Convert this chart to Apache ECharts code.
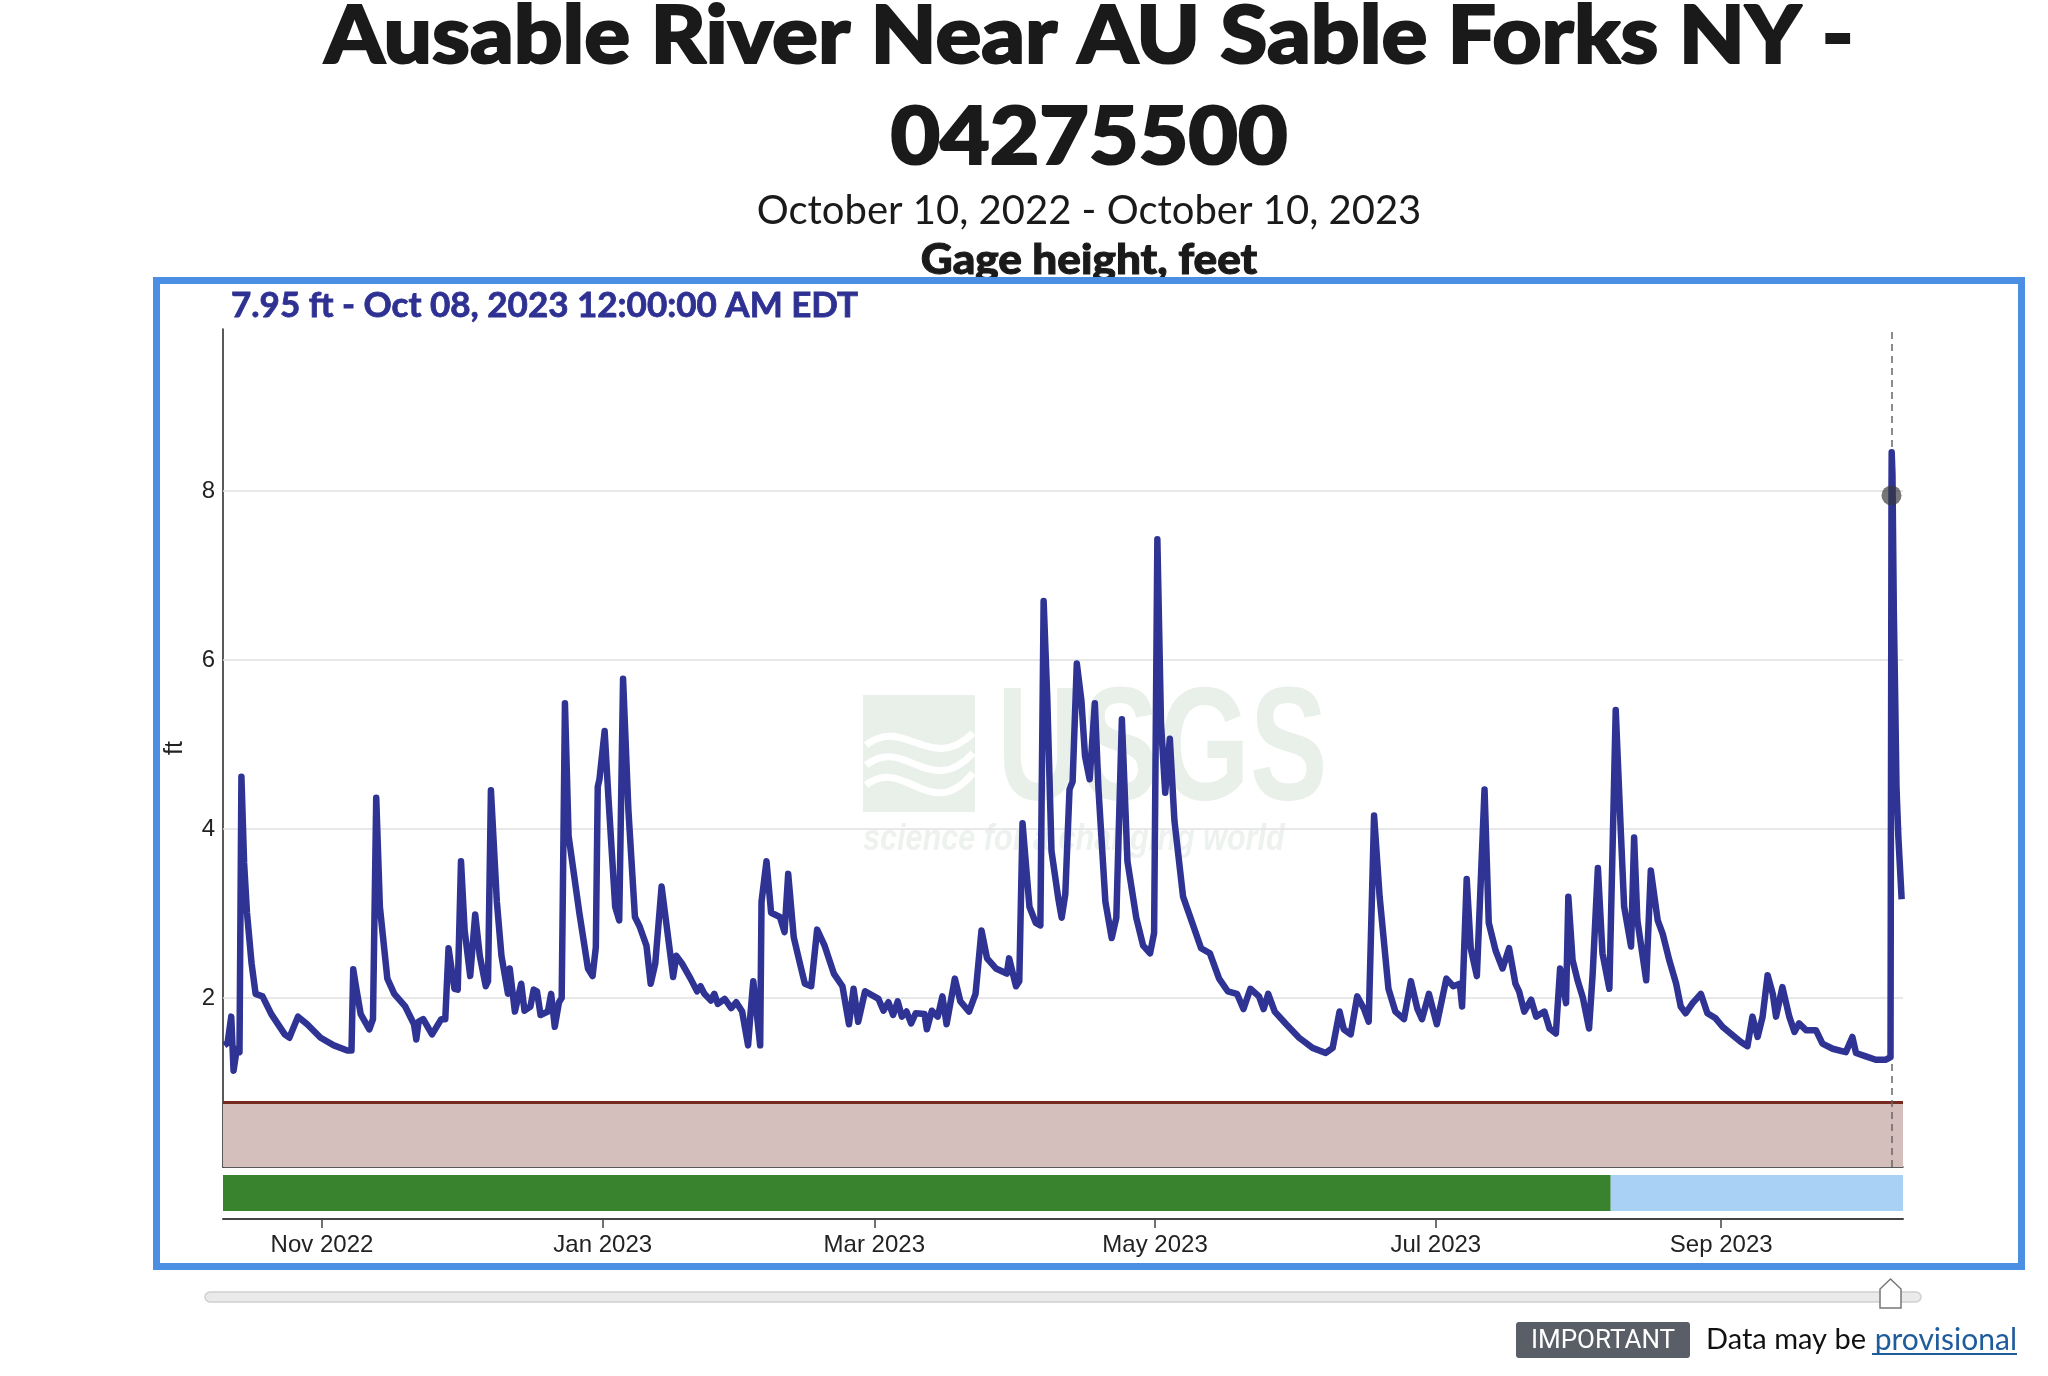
<!DOCTYPE html>
<html><head><meta charset="utf-8">
<script src="https://cdn.jsdelivr.net/npm/echarts@6/dist/echarts.min.js"></script>
<style>html,body{margin:0;padding:0;background:#fff;}#c{width:2048px;height:1376px;}</style>
</head><body><div id="c"></div>
<script>
// ---------------- DATA ----------------
const times = [
'2022-10-10 19:00','2022-10-11 12:00','2022-10-12 07:00','2022-10-12 19:00','2022-10-13 12:00','2022-10-14 02:00','2022-10-14 12:00','2022-10-15 02:00','2022-10-15 17:00','2022-10-16 17:00',
'2022-10-17 14:00','2022-10-19 02:00','2022-10-21 00:00','2022-10-23 22:00','2022-10-24 22:00','2022-10-26 19:00','2022-10-28 19:00','2022-10-31 17:00','2022-11-03 14:00','2022-11-06 12:00',
'2022-11-07 10:00','2022-11-07 19:00','2022-11-08 12:00','2022-11-09 10:00','2022-11-11 07:00','2022-11-12 02:00','2022-11-12 19:00','2022-11-13 14:00','2022-11-15 05:00','2022-11-16 17:00',
'2022-11-19 02:00','2022-11-21 00:00','2022-11-21 12:00','2022-11-22 00:00','2022-11-23 00:00','2022-11-24 22:00','2022-11-26 22:00','2022-11-27 19:00','2022-11-28 12:00','2022-11-29 00:00',
'2022-11-29 19:00','2022-11-30 12:00','2022-12-01 05:00','2022-12-02 00:00','2022-12-03 05:00','2022-12-04 07:00','2022-12-05 07:00','2022-12-06 14:00','2022-12-07 02:00','2022-12-07 17:00',
'2022-12-09 00:00','2022-12-10 00:00','2022-12-11 10:00','2022-12-11 19:00','2022-12-12 22:00','2022-12-14 07:00','2022-12-15 00:00','2022-12-16 07:00','2022-12-17 00:00','2022-12-17 17:00',
'2022-12-18 12:00','2022-12-20 02:00','2022-12-20 19:00','2022-12-21 14:00','2022-12-22 12:00','2022-12-23 02:00','2022-12-23 19:00','2022-12-24 14:00','2022-12-26 22:00','2022-12-28 19:00',
'2022-12-29 19:00','2022-12-30 12:00','2022-12-30 22:00','2022-12-31 07:00','2023-01-01 10:00','2023-01-02 05:00','2023-01-03 17:00','2023-01-04 14:00','2023-01-05 10:00','2023-01-06 14:00',
'2023-01-08 00:00','2023-01-09 00:00','2023-01-10 12:00','2023-01-11 10:00','2023-01-12 10:00','2023-01-13 19:00','2023-01-15 19:00','2023-01-16 07:00','2023-01-17 00:00','2023-01-18 05:00',
'2023-01-20 02:00','2023-01-21 12:00','2023-01-22 06:00','2023-01-23 02:00','2023-01-24 12:00','2023-01-25 06:00','2023-01-26 00:00','2023-01-27 12:00','2023-01-28 22:00','2023-01-30 00:00',
'2023-01-31 07:00','2023-02-01 14:00','2023-02-02 02:00','2023-02-02 17:00','2023-02-03 12:00','2023-02-04 05:00',
'2023-02-04 12:00','2023-02-05 14:00','2023-02-06 14:00','2023-02-08 12:00','2023-02-09 12:00','2023-02-10 07:00','2023-02-11 12:00','2023-02-12 17:00','2023-02-13 22:00','2023-02-15 07:00',
'2023-02-16 14:00','2023-02-18 05:00','2023-02-20 05:00','2023-02-22 02:00','2023-02-23 12:00','2023-02-24 12:00','2023-02-25 12:00','2023-02-27 00:00','2023-03-01 22:00','2023-03-03 00:00',
'2023-03-04 02:00','2023-03-05 02:00','2023-03-06 02:00','2023-03-07 00:00','2023-03-08 00:00','2023-03-09 00:00','2023-03-10 00:00','2023-03-11 22:00','2023-03-12 10:00','2023-03-13 12:00',
'2023-03-14 19:00','2023-03-15 19:00','2023-03-16 17:00','2023-03-18 12:00','2023-03-19 17:00',
'2023-03-21 14:00','2023-03-23 00:00','2023-03-24 07:00','2023-03-25 12:00','2023-03-27 10:00','2023-03-29 19:00','2023-03-30 07:00','2023-03-31 19:00','2023-04-01 12:00','2023-04-02 05:00',
'2023-04-03 17:00','2023-04-05 02:00','2023-04-06 02:00','2023-04-06 19:00','2023-04-07 14:00','2023-04-08 12:00','2023-04-10 00:00','2023-04-10 17:00','2023-04-11 12:00','2023-04-12 10:00',
'2023-04-13 02:00','2023-04-14 00:00','2023-04-15 00:00','2023-04-15 19:00','2023-04-16 19:00','2023-04-17 22:00','2023-04-18 17:00','2023-04-20 05:00','2023-04-21 14:00','2023-04-22 14:00',
'2023-04-23 19:00','2023-04-25 00:00','2023-04-26 22:00','2023-04-28 10:00','2023-04-29 22:00','2023-04-30 19:00','2023-05-01 12:00','2023-05-02 07:00','2023-05-03 05:00','2023-05-04 05:00',
'2023-05-05 05:00','2023-05-07 02:00','2023-05-09 02:00','2023-05-11 00:00','2023-05-12 22:00','2023-05-14 22:00','2023-05-16 19:00','2023-05-18 19:00','2023-05-20 05:00','2023-05-21 17:00',
'2023-05-23 14:00','2023-05-24 14:00','2023-05-25 14:00','2023-05-27 00:00','2023-05-29 12:00','2023-06-01 07:00','2023-06-04 05:00','2023-06-07 02:00','2023-06-08 14:00','2023-06-10 02:00',
'2023-06-11 00:00','2023-06-12 12:00','2023-06-13 22:00','2023-06-15 10:00','2023-06-16 10:00','2023-06-17 14:00','2023-06-18 19:00','2023-06-20 17:00','2023-06-22 05:00','2023-06-24 02:00',
'2023-06-25 14:00','2023-06-27 00:00','2023-06-28 00:00','2023-06-29 12:00','2023-07-01 05:00','2023-07-03 07:00','2023-07-04 19:00','2023-07-06 05:00','2023-07-06 17:00','2023-07-07 17:00',
'2023-07-08 14:00','2023-07-09 22:00','2023-07-11 14:00','2023-07-12 12:00','2023-07-14 00:00','2023-07-15 12:00','2023-07-16 22:00','2023-07-18 07:00','2023-07-19 02:00','2023-07-20 05:00',
'2023-07-21 17:00','2023-07-22 19:00','2023-07-24 14:00','2023-07-25 17:00','2023-07-27 02:00','2023-07-28 00:00','2023-07-29 07:00','2023-07-29 19:00','2023-07-30 17:00','2023-07-31 19:00',
'2023-08-01 22:00','2023-08-03 07:00','2023-08-04 02:00','2023-08-05 05:00','2023-08-06 05:00','2023-08-07 17:00','2023-08-09 02:00','2023-08-10 05:00','2023-08-10 22:00','2023-08-12 10:00',
'2023-08-13 02:00','2023-08-13 19:00','2023-08-15 17:00','2023-08-16 17:00','2023-08-18 05:00','2023-08-19 07:00','2023-08-20 17:00','2023-08-22 05:00','2023-08-23 05:00','2023-08-24 07:00',
'2023-08-25 19:00','2023-08-27 14:00','2023-08-29 00:00','2023-08-30 19:00','2023-09-01 07:00','2023-09-03 12:00','2023-09-05 07:00','2023-09-06 17:00','2023-09-07 19:00','2023-09-08 22:00',
'2023-09-10 00:00','2023-09-11 02:00','2023-09-12 05:00','2023-09-12 22:00','2023-09-14 07:00','2023-09-15 19:00','2023-09-16 22:00','2023-09-17 22:00','2023-09-19 10:00','2023-09-21 14:00',
'2023-09-23 00:00','2023-09-25 05:00','2023-09-28 02:00','2023-09-29 12:00','2023-09-30 07:00','2023-10-02 10:00','2023-10-04 14:00','2023-10-06 19:00','2023-10-07 19:00','2023-10-08 00:00',
'2023-10-08 01:00','2023-10-08 05:00','2023-10-08 12:00','2023-10-08 19:00','2023-10-09 02:00','2023-10-09 12:00','2023-10-10 05:00'
];
const gageHeight = [
1.44,1.47,1.78,1.14,1.40,1.36,4.62,3.60,3.01,2.41,
2.05,2.02,1.81,1.57,1.53,1.78,1.69,1.53,1.44,1.38,
1.38,2.34,2.10,1.81,1.63,1.75,4.37,3.08,2.23,2.05,
1.90,1.69,1.51,1.72,1.75,1.57,1.75,1.75,2.59,2.40,
2.11,2.10,3.62,2.80,2.26,2.99,2.50,2.14,2.20,4.46,
3.14,2.50,2.05,2.35,1.84,2.17,1.85,1.90,2.10,2.08,
1.80,1.84,2.05,1.66,1.95,2.00,5.49,3.92,3.01,2.35,
2.26,2.60,4.50,4.59,5.16,4.40,3.08,2.92,5.78,4.22,
2.96,2.85,2.62,2.17,2.41,3.32,2.47,2.25,2.50,2.41,
2.23,2.08,2.14,2.05,1.97,2.05,1.93,1.99,1.88,1.95,
1.84,1.44,1.80,2.20,1.80,1.44,
3.14,3.62,3.01,2.96,2.78,3.47,2.72,2.44,2.17,2.14,
2.81,2.62,2.29,2.14,1.69,2.11,1.72,2.08,1.99,1.85,
1.95,1.80,1.96,1.78,1.84,1.70,1.82,1.81,1.63,1.85,
1.78,2.02,1.69,2.23,1.96,
1.84,2.05,2.80,2.47,2.35,2.29,2.47,2.14,2.20,4.07,
3.08,2.89,2.86,6.70,5.55,3.74,3.17,2.95,3.23,4.47,
4.56,5.96,5.52,4.86,4.59,5.49,4.47,3.14,2.71,2.95,
5.30,3.62,2.95,2.62,2.53,2.77,7.43,5.25,4.43,5.07,
4.10,3.20,2.89,2.59,2.53,2.23,2.08,2.05,1.87,2.11,
2.02,1.87,2.05,1.84,1.69,1.53,1.41,1.35,1.41,1.84,
1.63,1.57,2.02,1.87,1.72,4.16,3.20,2.11,1.84,1.75,
2.20,1.87,1.75,2.05,1.69,2.23,2.14,2.17,1.90,3.41,
2.59,2.26,4.47,2.89,2.56,2.35,2.59,2.17,2.08,1.84,
1.98,1.78,1.84,1.64,1.58,2.35,1.94,3.20,2.45,2.21,
2.01,1.64,2.29,3.54,2.53,2.11,5.41,3.95,3.08,2.61,
3.90,2.92,2.21,3.51,2.92,2.76,2.45,2.17,1.90,1.82,
1.94,2.05,1.82,1.76,1.66,1.56,1.48,1.43,1.78,1.54,
1.78,2.27,2.05,1.78,2.13,1.78,1.60,1.70,1.62,1.62,
1.46,1.40,1.36,1.54,1.35,1.31,1.27,1.27,1.30,7.95,
8.46,8.20,6.60,5.60,4.50,3.90,3.17
];
const xTickMonths = ['2022-11-01','2023-01-01','2023-03-01','2023-05-01','2023-07-01','2023-09-01'];
const yGridValues = [2, 4, 6, 8];
const AXIS_START = '2022-10-10 12:00';
const AXIS_END = '2023-10-10 12:00';
const APPROVED_END = '2023-08-08 00:00';
const LOW_BAND_TOP = 0.77;
const Y_MAX = 9.92;
const CURSOR_TIME = '2023-10-08 00:00';
const CURSOR_VALUE = 7.95;

// ---------------- HELPERS ----------------
const MONTHS = ['Jan','Feb','Mar','Apr','May','Jun','Jul','Aug','Sep','Oct','Nov','Dec'];
function toTs(s){ if (s.length === 10) s += ' 00:00'; return new Date(s.replace(' ', 'T')).getTime(); }
const tMin = toTs(AXIS_START), tMax = toTs(AXIS_END);
const seriesData = times.map((t, i) => [toTs(t), gageHeight[i]]);
const tickTs = xTickMonths.map(toTs);

const LINE_COLOR = '#2E3394';
const SANS = 'Lato, "Open Sans", sans-serif';
const HELV = '"Liberation Sans", Arial, sans-serif';
const WM = '#E9F0EA';
const INK = '#1a1a1a';

function wave(y0, dy){
  return {type: 'bezierCurve', z: 0, silent: true,
    shape: {x1: 866, y1: y0, cpx1: 905, cpy1: y0 - 30, cpx2: 930, cpy2: y0 + 30 + dy, x2: 973, y2: y0 - 12},
    style: {stroke: '#ffffff', lineWidth: 7, fill: 'none'}};
}

const chart = echarts.init(document.getElementById('c'), null, {renderer: 'canvas'});
const option = {
  animation: false,
  backgroundColor: '#ffffff',
  grid: [
    {left: 223, right: 145, top: 329, height: 838},
    {left: 223, right: 145, top: 1175, height: 36}
  ],
  xAxis: [
    {type: 'value', gridIndex: 0, min: tMin, max: tMax,
     axisLine: {show: true, onZero: false, lineStyle: {color: '#222', width: 1.5}},
     axisTick: {show: false}, axisLabel: {show: false}, splitLine: {show: false}},
    {type: 'value', gridIndex: 1, min: tMin, max: tMax, offset: 8,
     axisLine: {show: true, onZero: false, lineStyle: {color: '#444', width: 2}},
     axisTick: {show: true, customValues: tickTs, length: 9, lineStyle: {color: '#444', width: 1.5}},
     axisLabel: {show: true, customValues: tickTs, fontSize: 24, color: '#222', fontFamily: HELV, margin: 14,
       formatter: v => { const d = new Date(v); return MONTHS[d.getMonth()] + ' ' + d.getFullYear(); }},
     splitLine: {show: false}}
  ],
  yAxis: [
    {type: 'value', gridIndex: 0, min: 0, max: Y_MAX, interval: 2,
     name: 'ft', nameLocation: 'middle', nameGap: 35, nameRotate: 90,
     nameTextStyle: {fontSize: 25, color: '#222', fontFamily: HELV},
     axisLine: {show: true, onZero: false, lineStyle: {color: '#222', width: 1.5}},
     axisTick: {show: false},
     axisLabel: {fontSize: 24, color: '#222', fontFamily: HELV, margin: 8,
       formatter: v => (yGridValues.indexOf(v) >= 0 ? String(v) : '')},
     splitLine: {show: false}},
    {type: 'value', gridIndex: 1, min: 0, max: 1, show: false}
  ],
  series: [
    { // background layers: grid lines + low band
      type: 'line', xAxisIndex: 0, yAxisIndex: 0, data: [[tMin, null]], z: 1, silent: true, symbol: 'none',
      markLine: {silent: true, symbol: 'none', label: {show: false},
        data: yGridValues.map(v => ({yAxis: v, lineStyle: {color: '#e0e0e0', width: 1.5, type: 'solid'}}))
          .concat([{yAxis: LOW_BAND_TOP, lineStyle: {color: '#762A1E', width: 3, type: 'solid'}}])},
      markArea: {silent: true, itemStyle: {color: '#D5BFBC'},
        data: [[{yAxis: 0}, {yAxis: LOW_BAND_TOP}]]}
    },
    {
      type: 'line', name: 'Gage height', xAxisIndex: 0, yAxisIndex: 0, data: seriesData,
      showSymbol: false, symbol: 'none', z: 5,
      lineStyle: {color: LINE_COLOR, width: 6.5, join: 'round'}
    },
    { // cursor dashed line
      type: 'line', xAxisIndex: 0, yAxisIndex: 0, data: [[tMin, null]], z: 8, silent: true, symbol: 'none',
      markLine: {silent: true, symbol: 'none', label: {show: false},
        data: [{xAxis: toTs(CURSOR_TIME), lineStyle: {color: '#666', width: 1.5, type: [7, 5]}}]}
    },
    {
      type: 'scatter', xAxisIndex: 0, yAxisIndex: 0, z: 9, silent: true,
      data: [[toTs(CURSOR_TIME), CURSOR_VALUE]], symbolSize: 20,
      itemStyle: {color: 'rgba(55,55,60,0.85)'}
    },
    { // approval status bar
      type: 'line', xAxisIndex: 1, yAxisIndex: 1, data: [[tMin, null]], silent: true, symbol: 'none',
      markArea: {silent: true,
        data: [
          [{xAxis: tMin, itemStyle: {color: '#3A832E'}}, {xAxis: toTs(APPROVED_END)}],
          [{xAxis: toTs(APPROVED_END), itemStyle: {color: '#A9D1F6'}}, {xAxis: tMax}]
        ]}
    }
  ],
  graphic: [
    // USGS watermark
    {type: 'rect', z: 0, silent: true, shape: {x: 863, y: 695, width: 112, height: 117}, style: {fill: WM}},
    wave(745, 0), wave(765, 5), wave(785, 10),
    {type: 'text', z: 0, silent: true, x: 997, y: 754, scaleX: 0.72, style: {text: 'USGS', fontSize: 162, fontWeight: 'bold', fontFamily: HELV, fill: WM, textVerticalAlign: 'middle'}},
    {type: 'text', z: 0, silent: true, x: 863, y: 840, scaleX: 0.85, style: {text: 'science for a changing world', fontSize: 36, fontWeight: 'bold', fontStyle: 'italic', fontFamily: HELV, fill: '#EDF2EE', textVerticalAlign: 'middle'}},
    // Titles
    {type: 'text', z: 50, x: 1089, y: 37, scaleX: 1.07, style: {text: 'Ausable River Near AU Sable Forks NY -', fontSize: 80, fontWeight: 900, fontFamily: SANS, fill: INK, stroke: INK, lineWidth: 2, textAlign: 'center', textVerticalAlign: 'middle'}},
    {type: 'text', z: 50, x: 1089, y: 138, scaleX: 1.07, style: {text: '04275500', fontSize: 80, fontWeight: 900, fontFamily: SANS, fill: INK, stroke: INK, lineWidth: 2, textAlign: 'center', textVerticalAlign: 'middle'}},
    {type: 'text', z: 50, x: 1089, y: 211, style: {text: 'October 10, 2022 - October 10, 2023', fontSize: 40, fontFamily: SANS, fill: INK, textAlign: 'center', textVerticalAlign: 'middle'}},
    {type: 'text', z: 50, x: 1089, y: 260, scaleX: 1.05, style: {text: 'Gage height, feet', fontSize: 42, fontWeight: 900, fontFamily: SANS, fill: INK, stroke: INK, lineWidth: 1, textAlign: 'center', textVerticalAlign: 'middle'}},
    // cursor readout
    {type: 'text', z: 50, x: 231, y: 306, style: {text: '7.95 ft - Oct 08, 2023 12:00:00 AM EDT', fontSize: 35, fontWeight: 'bold', fontFamily: SANS, fill: '#2E3192', stroke: '#2E3192', lineWidth: 0.8, textVerticalAlign: 'middle'}},
    // blue frame
    {type: 'rect', z: 100, shape: {x: 156.5, y: 280.5, width: 1865, height: 986}, style: {fill: 'none', stroke: '#4A8FE3', lineWidth: 7}},
    // slider
    {type: 'rect', z: 50, shape: {x: 205, y: 1292, width: 1716, height: 10, r: 5}, style: {fill: '#EAEAEA', stroke: '#CFCFCF', lineWidth: 1.5}},
    {type: 'polygon', z: 51, shape: {points: [[1880, 1308], [1880, 1289], [1890.5, 1279], [1901, 1289], [1901, 1308]]}, style: {fill: '#fff', stroke: '#777', lineWidth: 1.5}},
    // footer
    {type: 'rect', z: 50, shape: {x: 1516, y: 1322, width: 174, height: 36, r: 3}, style: {fill: '#5A5F67'}},
    {type: 'text', z: 51, x: 1603, y: 1341, style: {text: 'IMPORTANT', fontSize: 26, fontFamily: 'Roboto, sans-serif', fill: '#fff', textAlign: 'center', textVerticalAlign: 'middle'}},
    {type: 'text', z: 50, x: 1866, y: 1340, style: {text: 'Data may be', fontSize: 29, fontFamily: SANS, fill: '#111', textAlign: 'right', textVerticalAlign: 'middle'}},
    {type: 'text', z: 50, x: 2017, y: 1340, style: {text: 'provisional', fontSize: 30, fontFamily: SANS, fill: '#1F5C9C', textAlign: 'right', textVerticalAlign: 'middle'}},
    {type: 'line', z: 50, shape: {x1: 1872, y1: 1354, x2: 2017, y2: 1354}, style: {stroke: '#1F5C9C', lineWidth: 2}}
  ]
};
chart.setOption(option);
</script>
</body></html>
